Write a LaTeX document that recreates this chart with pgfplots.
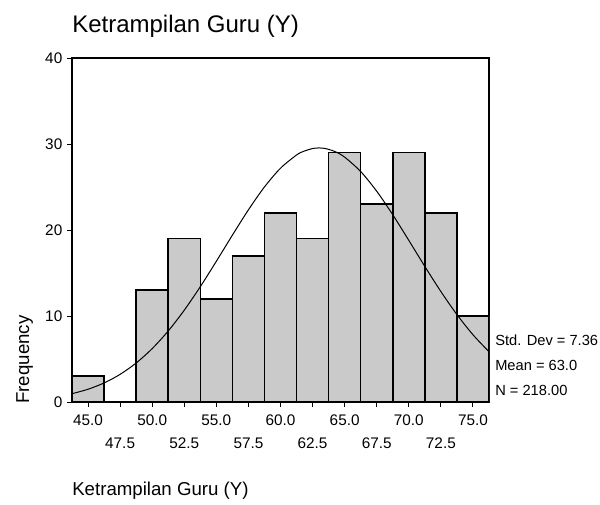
\documentclass[border=0pt]{standalone}
\usepackage{pgfplots}
\pgfplotsset{compat=1.18}
\usepackage{fontspec}
\setmainfont{Liberation Sans}
\definecolor{barfill}{RGB}{202,202,202}
\begin{document}
\begin{tikzpicture}
\useasboundingbox (0,0) rectangle (450pt,378pt);
\begin{axis}[
  at={(54pt,76.5pt)}, anchor=south west,
  scale only axis, width=312.75pt, height=258pt,
  xmin=43.75, xmax=76.25, ymin=0, ymax=40,
  axis line style={line width=1pt},
  xtick={45,50,55,60,65,70,75},
  ytick={0,10,20,30,40},
  tick align=outside, major tick length=3.75pt,
  tick style={black, line width=0.75pt},
  xtick pos=bottom, ytick pos=left,
  /pgf/number format/assume math mode=true,
  tick label style={font=\fontsize{11.5}{13}\selectfont},
  xticklabel style={yshift=-2pt, /pgf/number format/fixed, /pgf/number format/fixed zerofill, /pgf/number format/precision=1},
  extra x ticks={47.5,52.5,57.5,62.5,67.5,72.5},
  extra x tick style={xticklabel style={yshift=-17.6pt, /pgf/number format/fixed, /pgf/number format/fixed zerofill, /pgf/number format/precision=1}},
  clip=true,
]
\addplot[ybar, bar width=2.5, bar shift=0pt, fill=barfill, draw=black, line width=1.1pt]
coordinates {
(45,3) (50,13) (52.5,19) (55,12) (57.5,17) (60,22) (62.5,19)
(65,29) (67.5,23) (70,29) (72.5,22) (75,10)
};
\addplot[smooth, black, line width=0.75pt, mark=none]
coordinates {
(43.75,0.966) (45,1.484) (46.25,2.216) (47.5,3.216) (48.75,4.534)
(50,6.208) (51.25,8.259) (52.5,10.677) (53.75,13.410) (55,16.364)
(56.25,19.399) (57.5,22.346) (58.75,25.005) (60,27.186) (61.25,28.718)
(61.75,29.118) (62.5,29.473) (63,29.541) (63.5,29.473) (64.25,29.118)
(65,28.470) (66.25,26.797) (67.5,24.505) (68.75,21.773) (70,18.793)
(71.25,15.762) (72.5,12.843) (73.75,10.166) (75,7.820) (76.25,5.844)
};
\end{axis}
\node[anchor=base west, inner sep=0pt, font=\fontsize{18}{20}\selectfont] at (54pt,353.25pt) {Ketrampilan Guru (Y)};
\node[anchor=base west, inner sep=0pt, font=\fontsize{14}{16}\selectfont] at (54pt,6.75pt) {Ketrampilan Guru (Y)};
\node[anchor=base west, inner sep=0pt, rotate=90, font=\fontsize{14}{16}\selectfont] at (21.75pt,75pt) {Frequency};
\node[anchor=base west, inner sep=0pt, font=\fontsize{11}{13}\selectfont] at (371.25pt,118.5pt) {Std. Dev = 7.36};
\node[anchor=base west, inner sep=0pt, font=\fontsize{11}{13}\selectfont] at (371.25pt,99.75pt) {Mean = 63.0};
\node[anchor=base west, inner sep=0pt, font=\fontsize{11}{13}\selectfont] at (371.25pt,81.75pt) {N = 218.00};
\end{tikzpicture}
\end{document}
